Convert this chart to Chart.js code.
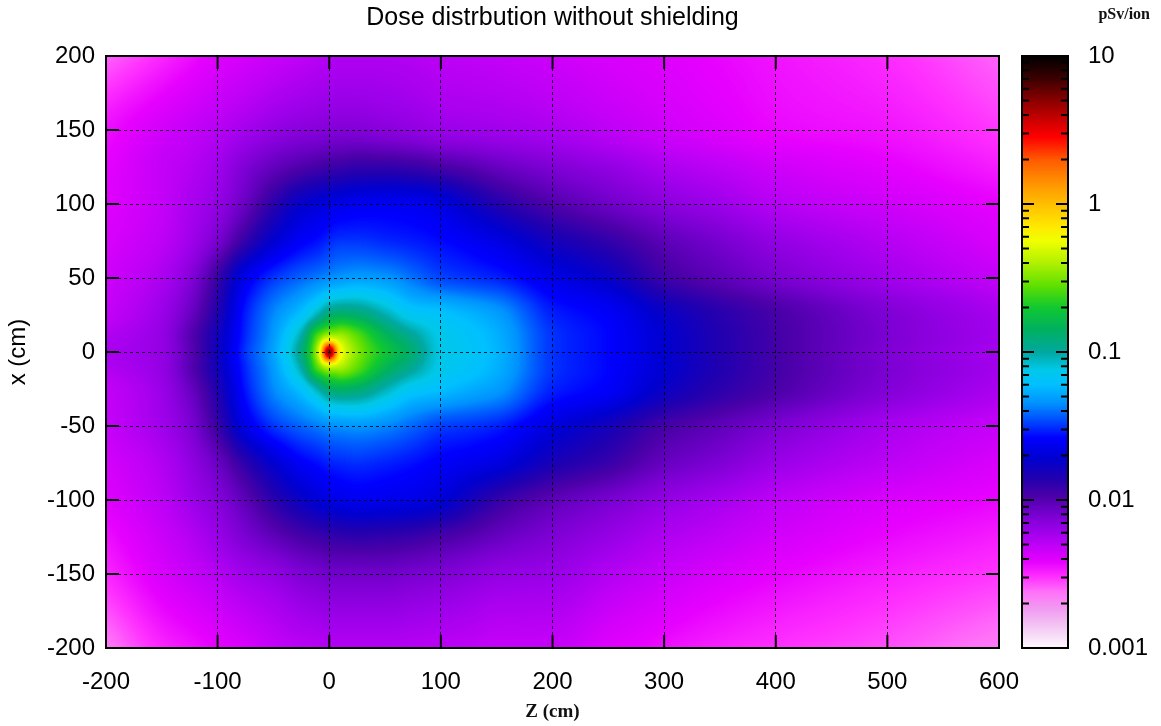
<!DOCTYPE html>
<html>
<head>
<meta charset="utf-8">
<title>Dose distrbution without shielding</title>
<script src="https://cdn.jsdelivr.net/npm/chart.js@4.4.1/dist/chart.umd.min.js"></script>
<style>
  html, body { margin: 0; padding: 0; background: #fff; }
  #wrap { width: 1161px; height: 726px; position: relative; }
</style>
</head>
<body>
<div id="wrap"><canvas id="doseChart"></canvas></div>
<script>
/* ═══ dose map, no shielding ═══ */

// grid nodes (cm): Z along the beam, x across it (top row first)
var zNodes = [-200,-150,-125,-100,-75,-50,-25,-10,0,10,25,50,75,100,125,150,200,250,300,350,400,500,600];
var xNodes = [200,150,125,100,75,50,25,10,0,-10,-25,-50,-75,-100,-125,-150,-200];

// log10(dose in pSv/ion), one row per x node, columns = zNodes
var logDose_p200 = [-2.60,-2.50,-2.45,-2.40,-2.37,-2.34,-2.31,-2.29,-2.28,-2.27,-2.27,-2.27,-2.28,-2.30,-2.31,-2.32,-2.35,-2.38,-2.40,-2.43,-2.46,-2.51,-2.60];
var logDose_p150 = [-2.45,-2.36,-2.32,-2.28,-2.23,-2.18,-2.15,-2.14,-2.13,-2.13,-2.13,-2.15,-2.17,-2.20,-2.21,-2.22,-2.25,-2.30,-2.35,-2.39,-2.43,-2.46,-2.53];
var logDose_p125 = [-2.42,-2.32,-2.28,-2.22,-2.12,-2.04,-1.98,-1.95,-1.93,-1.92,-1.90,-1.90,-1.92,-1.96,-2.00,-2.05,-2.12,-2.18,-2.25,-2.30,-2.35,-2.41,-2.48];
var logDose_p100 = [-2.40,-2.32,-2.25,-2.18,-2.05,-1.88,-1.74,-1.70,-1.67,-1.65,-1.63,-1.62,-1.63,-1.67,-1.76,-1.85,-1.98,-2.07,-2.15,-2.21,-2.28,-2.35,-2.42];
var logDose_p75  = [-2.38,-2.30,-2.22,-2.10,-1.90,-1.72,-1.60,-1.56,-1.52,-1.50,-1.50,-1.52,-1.54,-1.57,-1.61,-1.66,-1.80,-1.90,-2.02,-2.10,-2.18,-2.28,-2.38];
var logDose_p50  = [-2.35,-2.25,-2.14,-1.92,-1.64,-1.50,-1.42,-1.38,-1.35,-1.33,-1.31,-1.33,-1.40,-1.47,-1.50,-1.53,-1.65,-1.75,-1.93,-2.02,-2.10,-2.22,-2.32];
var logDose_p25  = [-2.32,-2.20,-2.06,-1.84,-1.54,-1.36,-1.20,-1.02,-0.88,-0.85,-0.88,-1.02,-1.16,-1.20,-1.25,-1.31,-1.53,-1.60,-1.75,-1.87,-1.96,-2.12,-2.24];
var logDose_p10  = [-2.27,-2.18,-2.01,-1.79,-1.52,-1.32,-1.00,-0.55,-0.35,-0.40,-0.55,-0.80,-0.97,-1.13,-1.19,-1.26,-1.50,-1.58,-1.72,-1.85,-1.95,-2.11,-2.23];
var logDose_0    = [-2.25,-2.18,-2.02,-1.78,-1.50,-1.30,-0.92,-0.35, 0.70,-0.20,-0.48,-0.72,-0.90,-1.12,-1.18,-1.25,-1.50,-1.58,-1.72,-1.85,-1.95,-2.12,-2.24];
var logDose_m10  = [-2.27,-2.18,-2.01,-1.79,-1.52,-1.32,-1.00,-0.55,-0.35,-0.40,-0.55,-0.80,-0.97,-1.13,-1.19,-1.26,-1.50,-1.58,-1.72,-1.85,-1.95,-2.11,-2.23];
var logDose_m25  = [-2.32,-2.20,-2.06,-1.84,-1.55,-1.36,-1.20,-1.02,-0.88,-0.85,-0.88,-1.03,-1.17,-1.22,-1.27,-1.32,-1.53,-1.60,-1.76,-1.88,-1.97,-2.13,-2.25];
var logDose_m50  = [-2.33,-2.22,-2.12,-1.92,-1.65,-1.50,-1.42,-1.38,-1.35,-1.34,-1.33,-1.36,-1.42,-1.48,-1.50,-1.53,-1.68,-1.80,-1.95,-2.03,-2.11,-2.24,-2.33];
var logDose_m75  = [-2.37,-2.27,-2.18,-2.06,-1.88,-1.72,-1.60,-1.56,-1.53,-1.52,-1.51,-1.53,-1.56,-1.60,-1.63,-1.67,-1.82,-1.92,-2.05,-2.12,-2.20,-2.30,-2.38];
var logDose_m100 = [-2.40,-2.30,-2.22,-2.14,-2.02,-1.88,-1.76,-1.70,-1.67,-1.65,-1.63,-1.64,-1.66,-1.70,-1.80,-1.90,-2.02,-2.10,-2.18,-2.24,-2.30,-2.38,-2.43];
var logDose_m125 = [-2.45,-2.34,-2.28,-2.20,-2.11,-2.03,-1.96,-1.93,-1.91,-1.90,-1.89,-1.90,-1.92,-1.96,-2.00,-2.05,-2.12,-2.19,-2.26,-2.31,-2.36,-2.43,-2.48];
var logDose_m150 = [-2.50,-2.38,-2.33,-2.28,-2.22,-2.18,-2.12,-2.10,-2.08,-2.08,-2.08,-2.08,-2.10,-2.12,-2.15,-2.18,-2.20,-2.27,-2.33,-2.38,-2.42,-2.48,-2.53];
var logDose_m200 = [-2.65,-2.50,-2.46,-2.42,-2.38,-2.33,-2.30,-2.29,-2.28,-2.28,-2.28,-2.28,-2.29,-2.30,-2.31,-2.33,-2.33,-2.40,-2.45,-2.49,-2.52,-2.57,-2.65];

var doseRows = [logDose_p200, logDose_p150, logDose_p125, logDose_p100, logDose_p75, logDose_p50,
                logDose_p25, logDose_p10, logDose_0, logDose_m10, logDose_m25, logDose_m50,
                logDose_m75, logDose_m100, logDose_m125, logDose_m150, logDose_m200];

// axis ticks
var zTicks = [-200,-100,0,100,200,300,400,500,600];
var xTicks = [-200,-150,-100,-50,0,50,100,150,200];
var cbMajor  = [0.001, 0.01, 0.1, 1, 10];
var cbLabels = ['0.001','0.01','0.1','1','10'];
var cbMinor  = [0.002,0.003,0.004,0.005,0.006,0.007,0.008,0.009,
                0.02,0.03,0.04,0.05,0.06,0.07,0.08,0.09,
                0.2,0.3,0.4,0.5,0.6,0.7,0.8,0.9,
                2,3,4,5,6,7,8,9];

// palette: log10(dose) -> colour (gnuplot-like rainbow, white at 0.001, black at 10)
var palette = [
  [-3.00,'#fff8ff'],[-2.88,'#f4d0f4'],[-2.75,'#f0a0f0'],[-2.62,'#ff70f8'],[-2.52,'#ff30ff'],
  [-2.42,'#e600ff'],[-2.32,'#c400f8'],[-2.22,'#a000ec'],[-2.10,'#7800d0'],[-1.97,'#4a00a8'],
  [-1.85,'#2000b0'],[-1.72,'#0000d0'],[-1.58,'#0000ff'],[-1.48,'#0040ff'],[-1.35,'#0090ff'],
  [-1.22,'#00c0ff'],[-1.12,'#00c8e8'],[-1.00,'#00a8a0'],[-0.85,'#00b060'],[-0.70,'#10c830'],
  [-0.55,'#60e000'],[-0.40,'#b0f000'],[-0.25,'#f0ff00'],[-0.15,'#ffe800'],[ 0.00,'#ffbe00'],
  [ 0.15,'#ff9000'],[ 0.30,'#ff5a00'],[ 0.45,'#ff0000'],[ 0.55,'#d40000'],[ 0.70,'#8a0000'],
  [ 0.85,'#3a0000'],[ 1.00,'#000000']
];

var FONT = '"Liberation Sans", Arial, Helvetica, sans-serif';
var SERIF = '"Liberation Serif", "DejaVu Serif", serif';

function hexRgb(h) {
  return [parseInt(h.substr(1,2),16), parseInt(h.substr(3,2),16), parseInt(h.substr(5,2),16)];
}

// lookup table over log10 dose -3..1
var LUT_N = 1000;
var lut = (function() {
  var out = [], stops = palette.map(function(p){ return [p[0], hexRgb(p[1])]; });
  for (var i = 0; i <= LUT_N; i++) {
    var L = -3 + 4 * i / LUT_N, k = 0;
    while (k < stops.length - 2 && L > stops[k+1][0]) k++;
    var a = stops[k], b = stops[k+1];
    var t = Math.max(0, Math.min(1, (L - a[0]) / (b[0] - a[0])));
    out.push([
      Math.round(a[1][0] + (b[1][0]-a[1][0])*t),
      Math.round(a[1][1] + (b[1][1]-a[1][1])*t),
      Math.round(a[1][2] + (b[1][2]-a[1][2])*t)
    ]);
  }
  return out;
})();

function colourFor(L) {
  var i = Math.round((L + 3) / 4 * LUT_N);
  if (i < 0) i = 0; if (i > LUT_N) i = LUT_N;
  return lut[i];
}

// monotone cubic (pchip) shading between read nodes; nodes must be ascending
function pchipSlopes(t, y) {
  var n = t.length, h = [], d = [], m = new Array(n);
  for (var k = 0; k < n - 1; k++) { h.push(t[k+1] - t[k]); d.push((y[k+1] - y[k]) / h[k]); }
  for (k = 1; k < n - 1; k++) {
    if (d[k-1] * d[k] <= 0) { m[k] = 0; continue; }
    var w1 = 2*h[k] + h[k-1], w2 = h[k] + 2*h[k-1];
    m[k] = (w1 + w2) / (w1 / d[k-1] + w2 / d[k]);
  }
  m[0] = d[0]; m[n-1] = d[n-2];
  return m;
}
function pchipAt(t, y, m, v) {
  var k = 0;
  while (k < t.length - 2 && v > t[k+1]) k++;
  var h = t[k+1] - t[k], s = Math.max(0, Math.min(1, (v - t[k]) / h));
  var s2 = s*s, s3 = s2*s;
  return (2*s3 - 3*s2 + 1)*y[k] + (s3 - 2*s2 + s)*h*m[k] + (-2*s3 + 3*s2)*y[k+1] + (s3 - s2)*h*m[k+1];
}

var xAsc = xNodes.slice().reverse();
var rowSlopes = doseRows.map(function(r){ return pchipSlopes(zNodes, r); });

// heat map goes under the grid
var heatmap = {
  id: 'heatmap',
  beforeDraw: function(c) {
    var a = c.chartArea, xs = c.scales.x, ys = c.scales.y;
    var w = Math.round(a.right - a.left), h = Math.round(a.bottom - a.top);
    var off = document.createElement('canvas');
    off.width = w; off.height = h;
    var octx = off.getContext('2d');
    var img = octx.createImageData(w, h), px = img.data;
    var xv = [];
    for (var v = 0; v < h; v++) xv.push(ys.getValueForPixel(a.top + v + 0.5));
    for (var u = 0; u < w; u++) {
      var z = xs.getValueForPixel(a.left + u + 0.5);
      // value of every node row at this Z, then across x
      var col = doseRows.map(function(r, j){ return pchipAt(zNodes, r, rowSlopes[j], z); }).reverse();
      var cm = pchipSlopes(xAsc, col);
      for (v = 0; v < h; v++) {
        var rgb = colourFor(pchipAt(xAsc, col, cm, xv[v]));
        var p = (v * w + u) * 4;
        px[p] = rgb[0]; px[p+1] = rgb[1]; px[p+2] = rgb[2]; px[p+3] = 255;
      }
    }
    octx.putImageData(img, 0, 0);
    c.ctx.drawImage(off, a.left, a.top);
  }
};

// frame, inward ticks, colour box and unit label
var decor = {
  id: 'decor',
  afterDraw: function(c) {
    var ctx = c.ctx, a = c.chartArea, xs = c.scales.x, ys = c.scales.y, cb = c.scales.cb;
    var tl = 13;
    ctx.save();
    ctx.strokeStyle = '#000'; ctx.lineWidth = 2;
    ctx.beginPath();
    xs.ticks.forEach(function(t) {
      var p = xs.getPixelForValue(t.value);
      if (p <= a.left + 1 || p >= a.right - 1) return;
      ctx.moveTo(p, a.bottom); ctx.lineTo(p, a.bottom - tl);
      ctx.moveTo(p, a.top);    ctx.lineTo(p, a.top + tl);
    });
    ys.ticks.forEach(function(t) {
      var p = ys.getPixelForValue(t.value);
      if (p <= a.top + 1 || p >= a.bottom - 1) return;
      ctx.moveTo(a.left, p);  ctx.lineTo(a.left + tl, p);
      ctx.moveTo(a.right, p); ctx.lineTo(a.right - tl, p);
    });
    ctx.stroke();
    ctx.strokeRect(a.left, a.top, a.right - a.left, a.bottom - a.top);

    // colour box
    var bx = a.right + 23, bw = 46;
    for (var y = Math.floor(cb.top); y < cb.bottom; y++) {
      var val = cb.getValueForPixel(y + 0.5);
      var col = colourFor(Math.log10(val));
      ctx.fillStyle = 'rgb(' + col[0] + ',' + col[1] + ',' + col[2] + ')';
      ctx.fillRect(bx, y, bw, 1);
    }
    ctx.beginPath();
    cb.ticks.forEach(function(t) {
      var p = cb.getPixelForValue(t.value);
      if (p <= cb.top + 1 || p >= cb.bottom - 1) return;
      var len = cbMajor.indexOf(t.value) >= 0 ? 12 : 7;
      ctx.moveTo(bx, p);      ctx.lineTo(bx + len, p);
      ctx.moveTo(bx + bw, p); ctx.lineTo(bx + bw - len, p);
    });
    ctx.stroke();
    ctx.strokeRect(bx, cb.top, bw, cb.bottom - cb.top);

    ctx.fillStyle = '#111';
    ctx.font = 'bold 16px ' + SERIF;
    ctx.textAlign = 'right'; ctx.textBaseline = 'middle';
    ctx.fillText('pSv/ion', 1150, 15);
    ctx.restore();
  }
};

var tickFont = { family: FONT, size: 24 };

new Chart(document.getElementById('doseChart'), {
  type: 'scatter',
  data: { datasets: [{ data: [] }] },
  plugins: [heatmap, decor],
  options: {
    responsive: true, maintainAspectRatio: false, animation: false,
    layout: { padding: 0 },
    plugins: {
      legend: { display: false },
      tooltip: { enabled: false },
      title: {
        display: true, fullSize: false, text: 'Dose distrbution without shielding', color: '#000',
        font: { family: FONT, size: 25, weight: 'normal' },
        padding: { top: 3, bottom: 23 }
      }
    },
    scales: {
      x: {
        type: 'linear', position: 'bottom', min: -200, max: 600,
        afterBuildTicks: function(s) { s.ticks = zTicks.map(function(v){ return {value: v}; }); },
        afterFit: function(s) { s.height = 78; },
        grid: { color: 'rgba(0,0,0,0.8)', lineWidth: 1, drawTicks: false },
        border: { display: false, dash: [3, 3] },
        ticks: { color: '#000', font: tickFont, padding: 20, maxRotation: 0, autoSkip: false },
        title: { display: true, text: 'Z (cm)', color: '#111',
                 font: { family: SERIF, size: 19, weight: 'bold' },
                 padding: { top: 0, bottom: 3 } }
      },
      y: {
        type: 'linear', position: 'left', min: -200, max: 200,
        afterBuildTicks: function(s) { s.ticks = xTicks.map(function(v){ return {value: v}; }); },
        afterFit: function(s) { s.width = 106; },
        grid: { color: 'rgba(0,0,0,0.8)', lineWidth: 1, drawTicks: false },
        border: { display: false, dash: [3, 3] },
        ticks: { color: '#000', font: tickFont, padding: 11, autoSkip: false },
        title: { display: true, text: 'x (cm)', color: '#000', font: { family: FONT, size: 24 },
                 padding: { top: 4, bottom: 0 } }
      },
      cb: {
        type: 'logarithmic', position: 'right', min: 0.001, max: 10,
        afterBuildTicks: function(s) {
          s.ticks = cbMajor.concat(cbMinor).sort(function(p, q){ return p - q; })
                      .map(function(v){ return {value: v}; });
        },
        afterFit: function(s) { s.width = 162; },
        // invisible tick length pushes the labels clear of the colour box
        grid: { display: false, drawTicks: true, tickLength: 86 },
        border: { display: false },
        ticks: {
          color: '#000', font: tickFont, padding: 3, autoSkip: false,
          callback: function(v) { var k = cbMajor.indexOf(v); return k >= 0 ? cbLabels[k] : ''; }
        }
      }
    }
  }
});
</script>
</body>
</html>
